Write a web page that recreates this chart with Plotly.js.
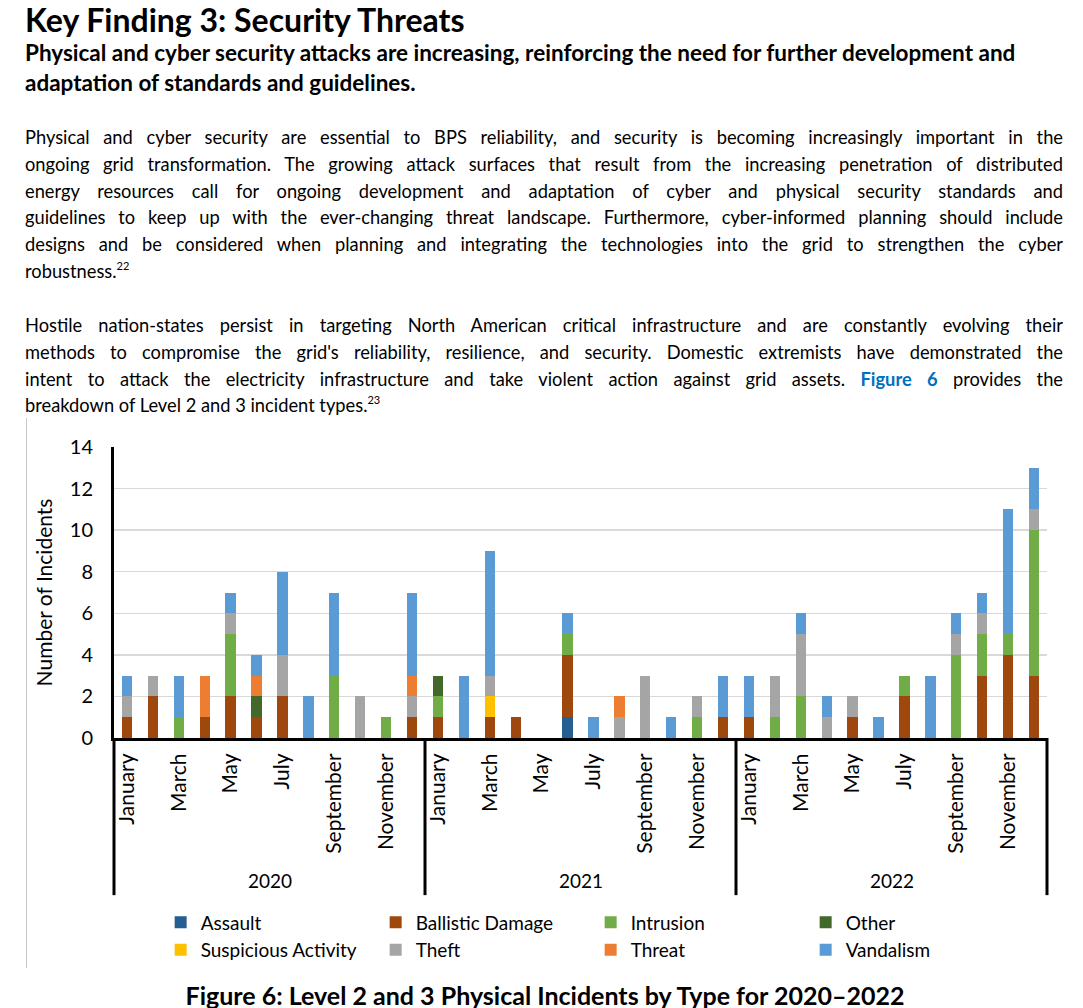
<!DOCTYPE html>
<html>
<head>
<meta charset="utf-8">
<script src="https://cdn.plot.ly/plotly-3.0.1.min.js"></script>
<style>
  html, body { margin: 0; padding: 0; background: #fff; }
  body { width: 1083px; height: 1008px; position: relative; overflow: hidden; font-family: Lato, "Open Sans", sans-serif; color: #000; }
  .blk { position: absolute; left: 25px; width: 1038px; }
  #title { top: 3px; font-size: 32px; font-weight: 700; line-height: 34px; white-space: nowrap; }
  #sub { top: 38px; font-size: 22.5px; font-weight: 700; line-height: 30px; white-space: nowrap; }
  .para { font-size: 18.3px; line-height: 26.8px; }
  .para .ln { text-align: justify; text-align-last: justify; white-space: normal; }
  .para .ln.last { text-align-last: left; }
  #p1 { top: 124px; }
  #p2 { top: 312px; }
  sup { font-size: 11px; line-height: 0; vertical-align: 8px; }
  .fig { color: #0070c0; font-weight: 700; }
  #chart { position: absolute; left: 0; top: 420px; width: 1083px; height: 580px; }
  #border { position: absolute; left: 26px; top: 418px; width: 1px; height: 550px; background: #c8c8c8; z-index: 5; }
  #caption { position: absolute; top: 980px; left: 0; width: 1090px; text-align: center; font-size: 25px; font-weight: 700; line-height: 30px; white-space: nowrap; }
</style>
</head>
<body>
<div class="blk" id="title">Key Finding 3: Security Threats</div>
<div class="blk" id="sub">Physical and cyber security attacks are increasing, reinforcing the need for further development and<br>adaptation of standards and guidelines.</div>
<div class="blk para" id="p1">
  <div class="ln">Physical and cyber security are essential to BPS reliability, and security is becoming increasingly important in the</div>
  <div class="ln">ongoing grid transformation. The growing attack surfaces that result from the increasing penetration of distributed</div>
  <div class="ln">energy resources call for ongoing development and adaptation of cyber and physical security standards and</div>
  <div class="ln">guidelines to keep up with the ever-changing threat landscape. Furthermore, cyber-informed planning should include</div>
  <div class="ln">designs and be considered when planning and integrating the technologies into the grid to strengthen the cyber</div>
  <div class="ln last">robustness.<sup>22</sup></div>
</div>
<div class="blk para" id="p2">
  <div class="ln">Hostile nation-states persist in targeting North American critical infrastructure and are constantly evolving their</div>
  <div class="ln">methods to compromise the grid's reliability, resilience, and security. Domestic extremists have demonstrated the</div>
  <div class="ln">intent to attack the electricity infrastructure and take violent action against grid assets. <span class="fig">Figure 6</span> provides the</div>
  <div class="ln last">breakdown of Level 2 and 3 incident types.<sup>23</sup></div>
</div>
<div id="chart"></div>
<div id="border"></div>
<div id="caption">Figure 6: Level 2 and 3 Physical Incidents by Type for 2020–2022</div>
<script>
const years = ["2020", "2021", "2022"];
const months = ["January","February","March","April","May","June","July","August","September","October","November","December"];

// Values per month, Jan 2020 ... Dec 2022
const assault =    [0,0,0,0,0,0,0,0,0,0,0,0,  0,0,0,0,0,1,0,0,0,0,0,0,  0,0,0,0,0,0,0,0,0,0,0,0];
const ballistic =  [1,2,0,1,2,1,2,0,0,0,0,1,  1,0,1,1,0,3,0,0,0,0,0,1,  1,0,0,0,1,0,2,0,0,3,4,3];
const intrusion =  [0,0,1,0,3,0,0,0,3,0,1,0,  1,0,0,0,0,1,0,0,0,0,1,0,  0,1,2,0,0,0,1,0,4,2,1,7];
const other =      [0,0,0,0,0,1,0,0,0,0,0,0,  1,0,0,0,0,0,0,0,0,0,0,0,  0,0,0,0,0,0,0,0,0,0,0,0];
const suspicious = [0,0,0,0,0,0,0,0,0,0,0,0,  0,0,1,0,0,0,0,0,0,0,0,0,  0,0,0,0,0,0,0,0,0,0,0,0];
const theft =      [1,1,0,0,1,0,2,0,0,2,0,1,  0,0,1,0,0,0,0,1,3,0,1,0,  0,2,3,1,1,0,0,0,1,1,0,1];
const threat =     [0,0,0,2,0,1,0,0,0,0,0,1,  0,0,0,0,0,0,0,1,0,0,0,0,  0,0,0,0,0,0,0,0,0,0,0,0];
const vandalism =  [1,0,2,0,1,1,4,2,4,0,0,4,  0,3,6,0,0,1,1,0,0,1,0,2,  2,0,1,1,0,1,0,3,1,1,6,2];

const seriesNames = ["Assault","Ballistic Damage","Intrusion","Other","Suspicious Activity","Theft","Threat","Vandalism"];
const seriesValues = [assault, ballistic, intrusion, other, suspicious, theft, threat, vandalism];
const seriesColors = ["#255e91","#9e480e","#70ad47","#43682b","#ffc000","#a5a5a5","#ed7d31","#5b9bd5"];

const FONT = "Lato, 'Open Sans', sans-serif";

const xIdx = [];
const tickvals = [], ticktext = [];
years.forEach((y, yi) => months.forEach((m, mi) => {
  const i = yi * 12 + mi;
  xIdx.push(i);
  if (mi % 2 === 0) { tickvals.push(i); ticktext.push(m); }
}));

const traces = seriesNames.map((n, k) => ({
  type: "bar", name: n, x: xIdx, y: seriesValues[k],
  marker: { color: seriesColors[k], line: { width: 0 } },
  hoverinfo: "name+y"
}));

const shapes = [0, 1, 2, 3].map(j => ({
  type: "line", xref: "paper", yref: "paper",
  x0: j / 3, x1: j / 3, y0: 0, y1: -0.54,
  line: { color: "#000", width: 3 }
}));

const annotations = years.map((y, yi) => ({
  text: y, xref: "paper", yref: "paper",
  x: (yi + 0.5) / 3, y: -0.491, showarrow: false,
  xanchor: "center", yanchor: "middle",
  font: { family: FONT, size: 19, color: "#000" }
}));

const layout = {
  width: 1083, height: 580,
  margin: { l: 114, r: 36, t: 27, b: 262 },
  paper_bgcolor: "rgba(0,0,0,0)",
  plot_bgcolor: "#fff",
  barmode: "stack",
  bargap: 0.6,
  showlegend: true,
  font: { family: FONT, size: 18, color: "#000" },
  xaxis: {
    range: [-0.5, 35.5], tickvals: tickvals, ticktext: ticktext,
    tickangle: -90, showgrid: false, zeroline: false,
    showline: true, linecolor: "#000", linewidth: 3,
    ticks: "", tickfont: { family: FONT, size: 21, color: "#000" },
    ticklabelstandoff: 4, automargin: false, fixedrange: true
  },
  yaxis: {
    range: [0, 14], dtick: 2, tick0: 0,
    showgrid: true, gridcolor: "#d9d9d9", gridwidth: 1.5,
    zeroline: false, showline: true, linecolor: "#000", linewidth: 3,
    ticks: "", ticklabelstandoff: 14,
    tickfont: { family: FONT, size: 20, color: "#000" },
    title: { text: "Number of Incidents", standoff: 12, font: { family: FONT, size: 21, color: "#000" } },
    automargin: false, fixedrange: true
  },
  legend: {
    orientation: "h", x: 0.05, xanchor: "left", y: -0.568, yanchor: "top",
    traceorder: "normal", entrywidth: 170, entrywidthmode: "pixels",
    font: { family: FONT, size: 19, color: "#000" },
    itemwidth: 30, tracegroupgap: 0
  },
  shapes: shapes,
  annotations: annotations
};

Plotly.newPlot("chart", traces, layout, { displayModeBar: false, staticPlot: true });
</script>
</body>
</html>
